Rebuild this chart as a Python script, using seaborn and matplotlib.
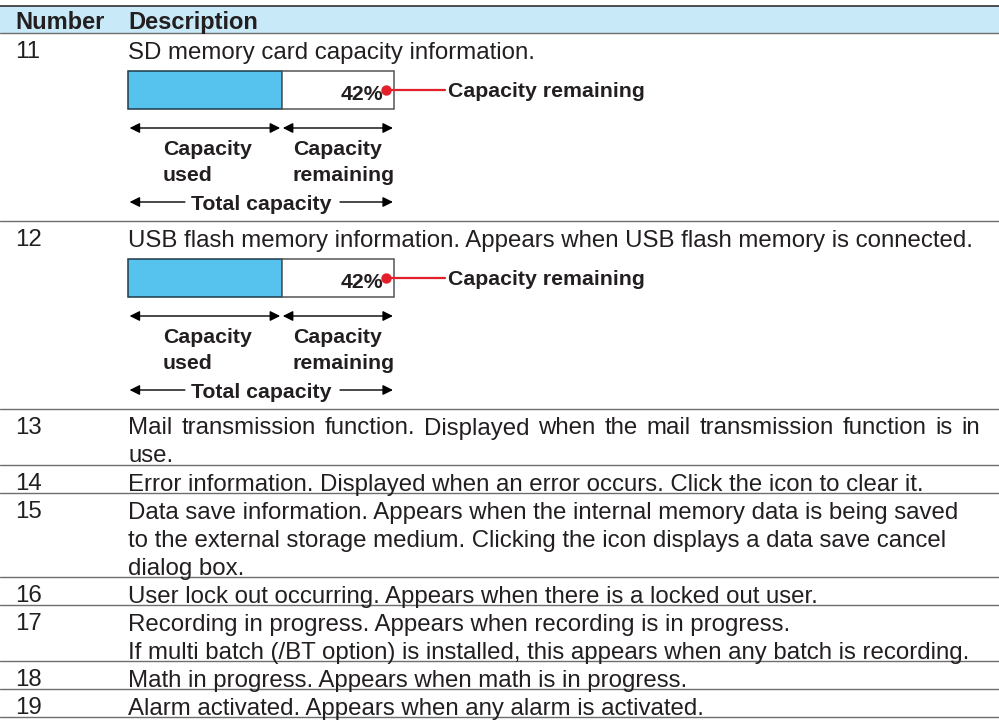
import matplotlib
matplotlib.use("Agg")
import matplotlib.pyplot as plt
import seaborn as sns

# table content
header = ["Number", "Description"]
numbers = ["11", "12", "13", "14", "15", "16", "17", "18", "19"]
descriptions = [
    ["SD memory card capacity information."],
    ["USB flash memory information. Appears when USB flash memory is connected."],
    ["Mail transmission function. Displayed when the mail transmission function is in",
     "use."],
    ["Error information. Displayed when an error occurs. Click the icon to clear it."],
    ["Data save information. Appears when the internal memory data is being saved",
     "to the external storage medium. Clicking the icon displays a data save cancel",
     "dialog box."],
    ["User lock out occurring. Appears when there is a locked out user."],
    ["Recording in progress. Appears when recording is in progress.",
     "If multi batch (/BT option) is installed, this appears when any batch is recording."],
    ["Math in progress. Appears when math is in progress."],
    ["Alarm activated. Appears when any alarm is activated."],
]
justified = [("13", 0)]

# capacity gauges shown in rows 11 and 12
gauge_rows = ["11", "12"]
used_pct = [58, 58]
remaining_pct = [42, 42]
used_label = ["Capacity", "used"]
remaining_label = ["Capacity", "remaining"]
total_label = "Total capacity"
pointer_label = "Capacity remaining"

sns.set_theme(style="white")
plt.rcParams["font.family"] = ["Liberation Sans", "DejaVu Sans"]

TXT = "#231f20"
HEAD_BG = "#c7e9f8"
RULE = "#6e6e6e"
BLUE = "#56c2ee"
RED = "#e3202a"

W, H = 999, 722
fig = plt.figure(figsize=(W / 100, H / 100), dpi=100)
ax = fig.add_axes([0, 0, 1, 1])
ax.set_xlim(0, W)
ax.set_ylim(H, 0)
ax.axis("off")

X_NUM, X_DESC, X_RIGHT = 15, 128, 980
LINE = 28
BODY = 17.3
SMALL = 15.3

# header band
ax.fill_between([0, W], 6, 33, color=HEAD_BG, lw=0)
ax.plot([0, W], [6, 6], color=TXT, lw=1.1)
ax.plot([0, W], [33, 33], color=RULE, lw=1.0)
ax.text(X_NUM, 29, header[0], fontsize=17, fontweight="bold", color=TXT, va="baseline")
ax.text(X_DESC, 29, header[1], fontsize=17, fontweight="bold", color=TXT, va="baseline")

renderer = fig.canvas.get_renderer()


def justify(y, s):
    words = s.split()
    arts = [ax.text(0, y, w, fontsize=BODY, color=TXT, va="baseline") for w in words]
    widths = [a.get_window_extent(renderer).width for a in arts]
    gap = (X_RIGHT - X_DESC - sum(widths)) / (len(words) - 1)
    x = X_DESC
    for a, w in zip(arts, widths):
        a.set_x(x)
        x += w + gap


def bold(g, x, y, s, **kw):
    g.text(x, y, s, fontsize=SMALL, fontweight="bold", color=TXT, va="baseline", **kw)


def gauge(top, used, rem):
    g = fig.add_axes([X_DESC / W, 1 - (top + 150) / H, 266 / W, 150 / H])
    g.set_xlim(0, 100)
    g.set_ylim(150, 0)
    g.axis("off")
    b1 = g.barh(19, used, height=38, left=0, color=BLUE, edgecolor="#1e3a48", lw=1.1)
    b2 = g.barh(19, rem, height=38, left=used, color="white", edgecolor="#555555", lw=1.1)
    for p in list(b1) + list(b2):
        p.set_clip_on(False)
    bold(g, 96, 28.5, f"{rem}%", ha="right")
    g.plot([97, 119], [19, 19], color=RED, lw=1.6, clip_on=False)
    g.scatter([97], [19], s=42, color=RED, zorder=5, clip_on=False)
    bold(g, 120.3, 26, pointer_label)
    arrow = dict(arrowstyle="<|-|>", color="black", lw=1.0, mutation_scale=15,
                 shrinkA=0, shrinkB=0)
    g.annotate("", xy=(0.6, 57), xytext=(used - 0.8, 57), arrowprops=arrow, annotation_clip=False)
    g.annotate("", xy=(used + 0.2, 57), xytext=(99.6, 57), arrowprops=arrow, annotation_clip=False)
    one = dict(arrowstyle="-|>", color="black", lw=1.0, mutation_scale=15, shrinkA=0, shrinkB=0)
    g.annotate("", xy=(0.6, 131), xytext=(21.4, 131), arrowprops=one, annotation_clip=False)
    g.annotate("", xy=(99.6, 131), xytext=(79.7, 131), arrowprops=one, annotation_clip=False)
    for i in range(2):
        bold(g, 13.2, 84 + 26 * i, used_label[i])
        bold(g, 62, 84 + 26 * i, remaining_label[i])
    bold(g, 50, 138.5, total_label, ha="center")


y = 33
for num, lines in zip(numbers, descriptions):
    ax.text(X_NUM, y + 25.5, num, fontsize=BODY, color=TXT, va="baseline")
    for i, line in enumerate(lines):
        if (num, i) in justified:
            justify(y + 25.5 + i * LINE, line)
        else:
            ax.text(X_DESC, y + 25.5 + i * LINE, line, fontsize=BODY, color=TXT, va="baseline")
    if num in gauge_rows:
        k = gauge_rows.index(num)
        gauge(y + 38, used_pct[k], remaining_pct[k])
        y += 188
    else:
        y += LINE * len(lines)
    ax.plot([0, W], [y, y], color=RULE, lw=1.0)

fig.savefig("out.png", dpi=100)
